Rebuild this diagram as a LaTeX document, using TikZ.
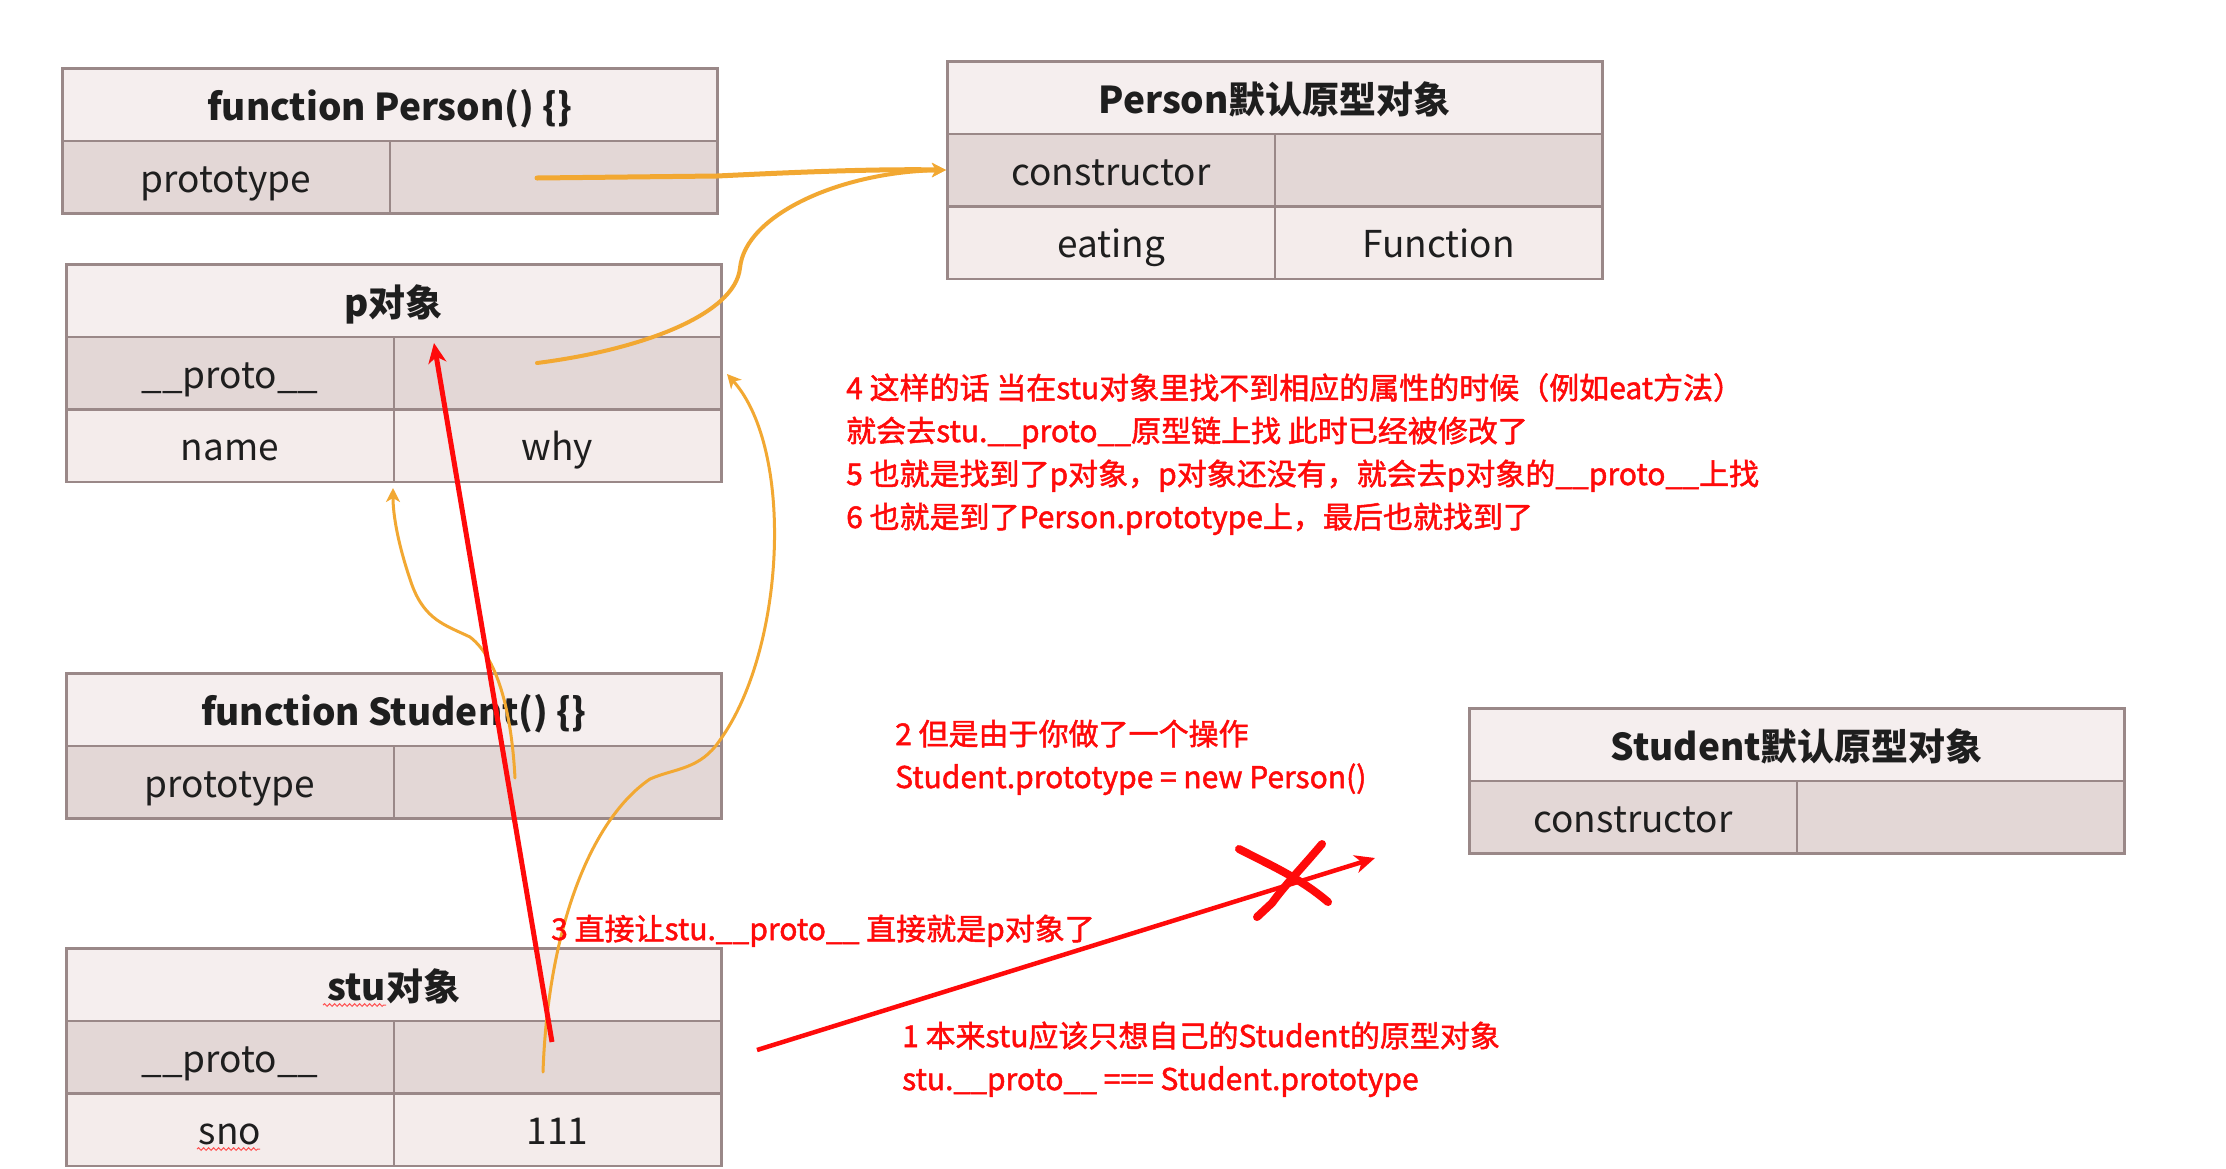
\documentclass[tikz,border=0pt]{standalone}
\usepackage{fontspec}
\setmainfont{Noto Sans CJK SC}
\newfontfamily\notefamily[FakeBold=1.6]{Noto Sans CJK SC}
\usetikzlibrary{arrows.meta,decorations.pathmorphing}
\definecolor{bord}{HTML}{9A8888}
\definecolor{hfill}{HTML}{F5EEEE}
\definecolor{dfill}{HTML}{E3D7D6}
\definecolor{lfill}{HTML}{F4ECEB}
\definecolor{org}{HTML}{F2A832}
\definecolor{rd}{HTML}{FF0A0A}
\definecolor{txt}{HTML}{1E1E1E}
\newcommand\myhfont{\fontsize{37}{44}\selectfont\bfseries}
\newcommand\mycfont{\fontsize{37}{44}\selectfont}
\newcommand\myrfont{\notefamily\fontsize{30}{43}\selectfont}
\begin{document}
\begin{tikzpicture}[x=1pt,y=-1pt,
  hdr/.style={draw=bord, line width=2.5pt, fill=hfill, minimum width=655pt, minimum height=72.5pt,
    anchor=north west, inner sep=0pt, font=\myhfont, text=txt, text height=32pt, text depth=0pt},
  cella/.style={draw=bord, line width=2.5pt, fill=dfill, minimum width=327.5pt, minimum height=72.5pt,
    anchor=north west, inner sep=0pt, font=\mycfont, text=txt, text height=30pt, text depth=0pt},
  cellb/.style={cella, fill=lfill},
  ornarrow/.style={draw=org, line cap=round, -{Stealth[length=14pt,width=14pt,inset=4pt]}},
  redarrow/.style={draw=rd, line width=5pt, -{Stealth[length=20pt,width=18pt,inset=6pt]}},
  note/.style={anchor=base west, inner sep=0pt, font=\myrfont, text=rd},
  squiggle/.style={draw=rd!70, line width=1pt, decorate, decoration={snake, amplitude=1.3pt, segment length=5pt}}
]
\useasboundingbox (0,0) rectangle (2226,1168);
\fill[white] (0,0) rectangle (2226,1168);

% function Person() {}
\node[hdr] (fp-h) at (61,67) {function Person() \{\}};
\node[cella] (fp-a) at (61,139.5) {prototype};
\node[cella] (fp-b) at (388.5,139.5) {};

% Person default prototype object
\node[hdr] (pd-h) at (946,60) {Person默认原型对象};
\node[cella] (pd-a) at (946,132.5) {constructor};
\node[cella] (pd-b) at (1273.5,132.5) {};
\node[cellb] (pd-c) at (946,205) {eating};
\node[cellb] (pd-d) at (1273.5,205) {Function};

% p object
\node[hdr] (p-h) at (65,263) {p对象};
\node[cella] (p-a) at (65,335.5) {\_\_proto\_\_};
\node[cella] (p-b) at (392.5,335.5) {};
\node[cellb] (p-c) at (65,408) {name};
\node[cellb] (p-d) at (392.5,408) {why};

% function Student() {}
\node[hdr] (fs-h) at (65,672) {function Student() \{\}};
\node[cella] (fs-a) at (65,744.5) {prototype};
\node[cella] (fs-b) at (392.5,744.5) {};

% stu object
\node[hdr] (s-h) at (65,947) {stu对象};
\node[cella] (s-a) at (65,1019.5) {\_\_proto\_\_};
\node[cella] (s-b) at (392.5,1019.5) {};
\node[cellb] (s-c) at (65,1092) {sno};
\node[cellb] (s-d) at (392.5,1092) {111};

% Student default prototype object
\node[hdr] (sd-h) at (1468,707) {Student默认原型对象};
\node[cella] (sd-a) at (1468,779.5) {constructor};
\node[cella] (sd-b) at (1795.5,779.5) {};

% spell-check squiggles
\draw[squiggle] (323,1005) -- (386,1005);
\draw[squiggle] (197,1149) -- (260,1149);

% connector end points
\coordinate (a1) at (537,178);
\coordinate (b1) at (537,363);
\coordinate (c1) at (515,778);
\coordinate (c2) at (393,488);
\coordinate (d1) at (543,1072);
\coordinate (d2) at (727,374);
\coordinate (r1) at (552,1042);
\coordinate (r1t) at (434,343);
\coordinate (r2) at (757,1050);
\coordinate (r2t) at (1375,858);

% orange connectors
\draw[ornarrow, line width=5pt] (a1) -- (717,176) .. controls (800,172) and (870,169) .. (pd-a.west);
\draw[ornarrow, line width=4pt] (b1) .. controls (640,350) and (735,315) .. (740,268)
   .. controls (745,215) and (840,172) .. (pd-a.west);
\draw[ornarrow, line width=3pt] (c1) .. controls (512,720) and (500,660) .. (470,637)
   .. controls (445,625) and (425,620) .. (412,585) .. controls (398,545) and (393,515) .. (c2);
\draw[ornarrow, line width=3pt] (d1) .. controls (548,930) and (590,820) .. (650,779)
   .. controls (675,768) and (700,770) .. (720,740) .. controls (785,650) and (795,450) .. (d2);

% red connectors
\draw[redarrow] (r1) -- (r1t);
\draw[redarrow, line width=4.5pt] (r2) -- (r2t);
% red cross
\draw[rd, line width=8pt, line cap=round] (1239,849) .. controls (1270,865) and (1300,878) .. (1328,902);
\draw[rd, line width=8pt, line cap=round] (1322,844) .. controls (1300,870) and (1285,885) .. (1272,903) -- (1257,917);

% notes
\node[note] (n4a) at (846,399) {4 这样的话 当在stu对象里找不到相应的属性的时候（例如eat方法）};
\node[note] (n4b) at (846,442) {就会去stu.\_\_proto\_\_原型链上找 此时已经被修改了};
\node[note] (n4c) at (846,485) {5 也就是找到了p对象，p对象还没有，就会去p对象的\_\_proto\_\_上找};
\node[note] (n4d) at (846,528) {6 也就是到了Person.prototype上，最后也就找到了};
\node[note] (n2a) at (895,745) {2 但是由于你做了一个操作};
\node[note] (n2b) at (895,788) {Student.prototype = new Person()};
\node[note] (n3) at (551,940) {3 直接让stu.\_\_proto\_\_ 直接就是p对象了};
\node[note] (n1a) at (902,1047) {1 本来stu应该只想自己的Student的原型对象};
\node[note] (n1b) at (902,1090) {stu.\_\_proto\_\_ === Student.prototype};
\end{tikzpicture}
\end{document}
